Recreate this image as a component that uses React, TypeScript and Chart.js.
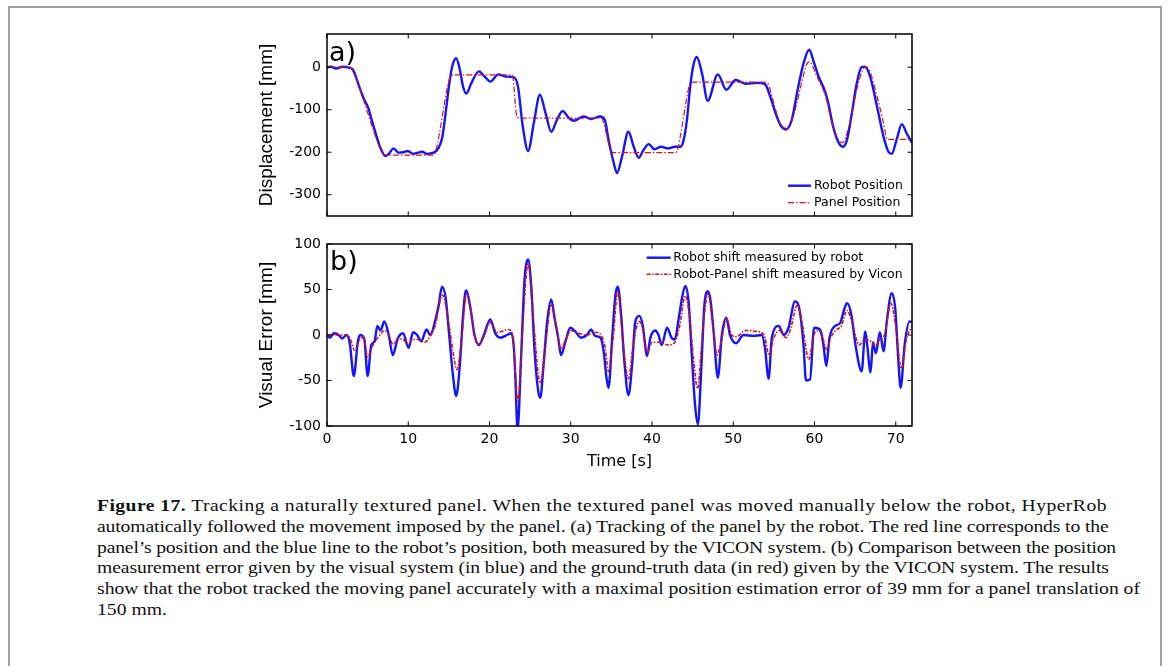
import React, { useEffect, useRef } from 'react';
import { Chart, registerables } from 'chart.js';

Chart.register(...registerables);

// ---------- data (a) ----------
const timeRobotA = [0, 0.5, 1.1, 1.9, 2.7, 3.2, 3.6, 4.1, 4.5, 5.1, 5.5, 6.0, 6.6, 7.2, 7.6, 8.2, 8.8, 9.4, 9.95, 10.6, 11.2, 11.7, 12.3, 13.1, 13.7, 14.2, 14.6, 15.0, 15.4, 15.9, 16.35, 16.75, 17.15, 17.75, 18.7, 19.4, 20.1, 21.1, 21.95, 23.0, 23.5, 24.1, 24.75, 25.45, 26.2, 26.9, 27.6, 28.3, 29.0, 29.7, 30.35, 31.6, 32.5, 33.6, 34.2, 34.65, 35.3, 35.7, 36.3, 37.1, 37.75, 38.35, 38.95, 39.6, 40.3, 41.1, 42.0, 42.8, 43.5, 43.9, 44.3, 44.7, 45.1, 45.5, 46.15, 46.85, 48.1, 49.15, 50.3, 51.5, 52.9, 53.9, 54.55, 55.2, 55.8, 56.5, 57.2, 58.0, 58.65, 59.35, 59.9, 60.5, 61.3, 61.7, 62.3, 63.0, 63.5, 64.0, 64.6, 65.2, 65.8, 66.2, 66.85, 67.7, 68.5, 69.1, 69.5, 70.1, 70.75, 71.35, 72];
const robotPosition = [0, 1, -3, 1, -1, -6, -25, -53, -73, -97, -124, -156, -191, -209, -204, -191, -201, -200, -197, -204, -201, -199, -204, -201, -191, -164, -108, -46, 1, 21, -6, -46, -62, -38, -10, -22, -34, -17, -22, -24, -45, -140, -197, -132, -65, -108, -152, -124, -103, -118, -126, -116, -122, -116, -124, -171, -226, -249, -211, -152, -187, -213, -195, -181, -193, -187, -191, -187, -187, -171, -124, -46, 5, 24, -14, -79, -17, -53, -30, -39, -37, -40, -69, -108, -136, -146, -124, -46, 9, 41, 13, -22, -57, -85, -140, -179, -187, -171, -108, -38, 0, 1, -22, -93, -164, -199, -204, -171, -134, -156, -178];
const timePanelA = [0, 2.8, 3.1, 6.7, 7.0, 7.3, 13.1, 13.4, 15.0, 15.3, 15.5, 22.7, 22.9, 23.3, 23.55, 23.8, 33.8, 34.0, 34.9, 35.1, 35.3, 42.9, 43.15, 44.6, 44.85, 45.1, 53.9, 54.2, 55.0, 55.6, 56.5, 57.6, 58.4, 59.0, 59.35, 60.3, 61.3, 62.3, 63.4, 64.3, 65.2, 65.9, 66.3, 66.7, 67.7, 68.5, 68.9, 69.1, 72];
const panelPosition = [0, 0, -6, -198, -206, -207, -207, -196, -32, -19, -18, -18, -26, -110, -119, -120, -120, -128, -195, -200, -201, -201, -193, -43, -36, -35, -35, -37, -85, -124, -148, -101, -38, 5, 13, -22, -65, -140, -178, -135, -53, -8, 0, -5, -69, -132, -168, -170, -170];

// ---------- data (b) ----------
const timeRobotB = [0, 0.35, 0.85, 1.45, 1.85, 2.4, 2.8, 3.3, 3.8, 4.1, 4.6, 5.0, 5.45, 5.85, 6.2, 6.6, 7.05, 7.6, 8.1, 8.7, 9.35, 10.05, 10.6, 11.1, 11.6, 12.25, 12.7, 13.35, 13.75, 14.15, 14.6, 15.0, 15.5, 15.9, 16.35, 16.75, 17.1, 17.65, 18.15, 18.7, 19.3, 20.1, 20.7, 21.35, 22.15, 22.65, 23.0, 23.2, 23.45, 23.9, 24.3, 24.75, 25.15, 25.55, 26.0, 26.25, 26.65, 27.1, 27.6, 28.0, 28.45, 28.8, 29.35, 29.95, 30.55, 31.25, 32.0, 32.5, 33.0, 33.65, 34.05, 34.4, 34.65, 35.1, 35.5, 35.8, 36.2, 36.6, 37.1, 37.55, 37.95, 38.45, 38.85, 39.4, 39.8, 40.4, 40.8, 41.2, 41.85, 42.4, 42.8, 43.3, 43.7, 44.1, 44.5, 44.9, 45.3, 45.65, 46.05, 46.45, 46.9, 47.2, 47.6, 48.1, 48.6, 49.15, 49.6, 50.35, 51.25, 52.5, 53.5, 53.9, 54.35, 54.75, 55.6, 56.2, 56.8, 57.6, 58.15, 58.65, 58.95, 59.45, 59.95, 60.7, 61.1, 61.45, 61.85, 62.55, 63.15, 63.65, 64.0, 64.5, 65.1, 65.8, 66.25, 66.5, 66.9, 67.2, 67.55, 68.05, 68.5, 68.9, 69.5, 69.95, 70.3, 70.6, 71.1, 71.7, 72];
const robotShift = [0, -3, 2, 0, -4, 0, -9, -45, -7, 0, -5, -45, -11, -7, 10, 5, 15, 0, -22, -4, 2, -14, 3, 0, -7, 6, 0, 17, 33, 53, 41, 4, -44, -67, -33, 22, 49, 30, 0, -11, 0, 17, 2, -3, 0, 2, -14, -50, -104, -22, 59, 83, 52, -18, -62, -69, -33, 15, 39, 19, -3, -22, -7, 8, 4, -3, 0, 6, -1, -3, -18, -47, -58, -3, 44, 53, 22, -29, -66, -33, 15, 21, 11, -23, -3, 5, 0, -11, 8, -3, -5, 19, 41, 54, 37, -22, -77, -98, -40, 33, 48, 38, 2, -47, 0, 19, 0, -9, 0, -1, 0, -14, -48, -3, 10, 0, 8, 37, 28, -11, -50, -49, 8, 6, -11, -34, -3, 10, 13, 28, 35, 24, -14, -40, 4, -12, -41, -8, -20, 3, -18, 15, 46, 28, -25, -58, -10, 15, 14];
const timeViconB = [0, 1.0, 2.0, 2.8, 3.4, 4.0, 4.5, 5.0, 5.6, 6.5, 7.1, 7.6, 8.1, 8.8, 9.4, 10.0, 10.6, 11.2, 12.0, 12.8, 13.3, 14.2, 15.0, 15.5, 16.0, 16.5, 17.2, 17.8, 18.2, 18.7, 19.4, 20.0, 21.0, 22.3, 22.8, 23.5, 24.0, 24.75, 25.3, 26.25, 26.8, 27.6, 28.2, 28.8, 29.4, 30.0, 31.0, 32.0, 33.0, 33.7, 34.2, 34.65, 35.2, 35.8, 36.4, 37.1, 37.7, 38.4, 38.9, 39.4, 40.0, 41.0, 42.0, 42.8, 43.4, 44.1, 44.6, 45.1, 45.6, 46.2, 46.9, 47.5, 48.0, 48.6, 49.2, 49.8, 50.4, 51.5, 52.8, 53.8, 54.4, 55.0, 55.7, 56.5, 57.0, 57.9, 58.5, 59.3, 59.9, 60.5, 61.0, 61.5, 62.0, 62.6, 63.3, 64.0, 64.6, 65.5, 66.2, 66.8, 67.5, 68.0, 68.6, 69.4, 69.9, 70.7, 71.3, 72];
const viconShift = [0, 0, 0, -3, -17, -6, -2, -24, -12, 0, 5, 0, -10, -4, -5, -10, -5, -5, -8, 0, 10, 44, 12, -18, -38, -10, 45, 22, -2, -10, 0, 14, 3, 6, 2, -72, -5, 78, 28, -53, -20, 33, 10, -15, -5, 5, 2, 0, 3, 0, -12, -40, -5, 48, -5, -48, -10, 15, 5, -20, -8, -8, -11, -8, 10, 43, 22, -25, -59, 0, 46, 10, -22, -3, 18, 0, -2, 5, 4, 0, -22, -3, 5, -3, 5, 33, 12, -27, 0, 5, -3, -16, -3, 5, 10, 27, 15, -11, -5, -6, -12, -5, 0, 35, 15, -37, -5, 10];

const xTicks = [0, 10, 20, 30, 40, 50, 60, 70];
const yTicksA = [-300, -200, -100, 0];
const yTicksB = [-100, -50, 0, 50, 100];
const legendA = ['Robot Position', 'Panel Position'];
const legendB = ['Robot shift measured by robot', 'Robot-Panel shift measured by Vicon'];

const BLUE = '#1414ff';
const RED = '#e01010';
const SANS = '"DejaVu Sans", "Liberation Sans", sans-serif';
const ARIAL = '"Liberation Sans", Arial, sans-serif';

const pts = (xs: number[], ys: number[]) => xs.map((x, i) => ({ x, y: ys[i] }));

const boxPlugin = {
  id: 'matlabBox',
  afterDatasetsDraw(chart: any, _args: any, opts: any) {
    const { ctx, chartArea } = chart;
    const { left, right, top, bottom } = chartArea;
    const xs = chart.scales.x;
    const ys = chart.scales.y;
    ctx.save();
    ctx.setLineDash([]);
    ctx.strokeStyle = '#000';
    ctx.lineWidth = 1;
    const tl = 4.5;
    ctx.beginPath();
    xs.ticks.forEach((t: any) => {
      const px = xs.getPixelForValue(t.value);
      ctx.moveTo(px, bottom);
      ctx.lineTo(px, bottom - tl);
      ctx.moveTo(px, top);
      ctx.lineTo(px, top + tl);
    });
    ys.ticks.forEach((t: any) => {
      const py = ys.getPixelForValue(t.value);
      ctx.moveTo(left, py);
      ctx.lineTo(left + tl, py);
      ctx.moveTo(right, py);
      ctx.lineTo(right - tl, py);
    });
    ctx.stroke();
    ctx.lineWidth = 1.5;
    ctx.strokeRect(left, top, right - left, bottom - top);

    // panel label
    ctx.fillStyle = '#000';
    ctx.font = '27px ' + SANS;
    ctx.textBaseline = 'alphabetic';
    ctx.textAlign = 'left';
    ctx.fillText(opts.label, left + opts.labelDx, top + opts.labelDy);

    // legend
    ctx.font = '12.5px ' + SANS;
    ctx.textBaseline = 'middle';
    const order = [1, 0]; // blue row first
    const labels = opts.legend;
    order.forEach((di: number, row: number) => {
      const ds = chart.data.datasets[di];
      const y = top + opts.legendRows[row];
      ctx.save();
      ctx.strokeStyle = ds.borderColor;
      ctx.lineWidth = ds.borderWidth;
      ctx.setLineDash(ds.borderDash || []);
      ctx.beginPath();
      ctx.moveTo(right - opts.lineStart, y);
      ctx.lineTo(right - opts.lineEnd, y);
      ctx.stroke();
      ctx.restore();
      ctx.fillStyle = '#000';
      ctx.fillText(labels[row], right - opts.textStart, y);
    });
    ctx.restore();
  },
};

function makeConfig(p: any): any {
  return {
    type: 'line',
    data: {
      datasets: [
        {
          label: p.labels[1],
          data: pts(p.t2, p.v2),
          borderColor: RED,
          borderWidth: p.redWidth,
          borderDash: p.redDash,
          pointRadius: 0,
          cubicInterpolationMode: 'monotone',
          fill: false,
          order: 0,
        },
        {
          label: p.labels[0],
          data: pts(p.t1, p.v1),
          borderColor: BLUE,
          borderWidth: 2.4,
          pointRadius: 0,
          cubicInterpolationMode: 'monotone',
          fill: false,
          order: 1,
        },
      ],
    },
    options: {
      responsive: false,
      animation: false,
      devicePixelRatio: 1,
      events: [],
      layout: { padding: { left: 0, right: 18, top: 10, bottom: 0 }, autoPadding: false },
      plugins: {
        legend: { display: false },
        tooltip: { enabled: false },
        matlabBox: p.box,
      },
      scales: {
        x: {
          type: 'linear',
          min: 0,
          max: 72,
          afterBuildTicks: (s: any) => { s.ticks = xTicks.map((v) => ({ value: v })); },
          afterFit: (s: any) => { s.height = p.xHeight; s.paddingLeft = 0; s.paddingRight = 0; s.paddingTop = 0; s.paddingBottom = 0; },
          grid: { display: false, drawTicks: false },
          border: { display: false },
          ticks: { display: p.showX, padding: 5, font: { family: SANS, size: 14 }, color: '#000', maxRotation: 0, autoSkip: false },
          title: { display: p.showX, text: 'Time [s]', color: '#000', font: { family: SANS, size: 16, lineHeight: 1.2 }, padding: { top: 0, bottom: 3 } },
        },
        y: {
          type: 'linear',
          min: p.yMin,
          max: p.yMax,
          afterBuildTicks: (s: any) => { s.ticks = p.yTicks.map((v: number) => ({ value: v })); },
          afterFit: (s: any) => { s.width = 87; s.paddingTop = 0; s.paddingBottom = 0; s.paddingLeft = 0; s.paddingRight = 0; },
          grid: { display: false, drawTicks: false },
          border: { display: false },
          ticks: { padding: 6, font: { family: SANS, size: 14 }, color: '#000', autoSkip: false },
          title: { display: true, text: p.yTitle, color: '#000', font: { family: ARIAL, size: 19, lineHeight: 1.2 }, padding: { top: 15, bottom: 0 } },
        },
      },
    },
    plugins: [boxPlugin],
  };
}

const captionLines: React.ReactNode[] = [
  <><b>Figure 17.</b> Tracking a naturally textured panel. When the textured panel was moved manually below the robot, HyperRob</>,
  'automatically followed the movement imposed by the panel. (a) Tracking of the panel by the robot. The red line corresponds to the',
  'panel\u2019s position and the blue line to the robot\u2019s position, both measured by the VICON system. (b) Comparison between the position',
  'measurement error given by the visual system (in blue) and the ground-truth data (in red) given by the VICON system. The results',
  'show that the robot tracked the moving panel accurately with a maximal position estimation error of 39 mm for a panel translation of',
  '150 mm.',
];
const captionWidths = [1010, 1011, 1019, 1012, 1043];

export default function App() {
  const refA = useRef<HTMLCanvasElement>(null);
  const refB = useRef<HTMLCanvasElement>(null);
  const capRef = useRef<HTMLDivElement>(null);

  useEffect(() => {
    const a = new Chart(refA.current as any, makeConfig({
      labels: legendA,
      t1: timeRobotA, v1: robotPosition,
      t2: timePanelA, v2: panelPosition,
      redWidth: 1.2, redDash: [6, 2, 1.5, 2],
      yMin: -350, yMax: 78, yTicks: yTicksA,
      yTitle: 'Displacement [mm]',
      showX: false, xHeight: 8,
      box: { label: 'a)', labelDx: 2, labelDy: 27, legend: legendA, legendRows: [151.7, 168.7], lineStart: 124, lineEnd: 101, textStart: 98 },
    }));
    const b = new Chart(refB.current as any, makeConfig({
      labels: legendB,
      t1: timeRobotB, v1: robotShift,
      t2: timeViconB, v2: viconShift,
      redWidth: 1.6, redDash: [4, 1.5, 1.5, 1.5],
      yMin: -100, yMax: 100, yTicks: yTicksB,
      yTitle: 'Visual Error [mm]',
      showX: true, xHeight: 48,
      box: { label: 'b)', labelDx: 3, labelDy: 26, legend: legendB, legendRows: [13.7, 30.3], lineStart: 265.3, lineEnd: 241.3, textStart: 238.7 },
    }));

    const fit = () => {
      const cap = capRef.current;
      if (!cap) return;
      const spans = Array.from(cap.querySelectorAll('span.capline')) as HTMLSpanElement[];
      spans.forEach((s) => { s.style.letterSpacing = '0px'; });
      const widths = spans.map((s) => s.offsetWidth);
      if (!widths[0]) return;
      let sum = 0;
      captionWidths.forEach((t, i) => { sum += t / widths[i]; });
      const k = sum / captionWidths.length;
      cap.style.transform = `scaleX(${k})`;
      captionWidths.forEach((t, i) => {
        const n = (spans[i].textContent || '').length;
        if (n > 0) spans[i].style.letterSpacing = `${(t / k - widths[i]) / n}px`;
      });
    };
    fit();
    if ((document as any).fonts && (document as any).fonts.ready) (document as any).fonts.ready.then(fit);

    return () => { a.destroy(); b.destroy(); };
  }, []);

  return (
    <div style={{ position: 'absolute', left: 0, top: 0, width: 1170, height: 666, overflow: 'hidden', background: '#fff' }}>
      <div style={{ position: 'absolute', left: 8, top: 6, width: 1154, height: 720, border: '2px solid #a0a0a0', boxSizing: 'border-box' }} />
      <canvas ref={refA} width={690} height={200} style={{ position: 'absolute', left: 240, top: 24, width: 690, height: 200 }} />
      <canvas ref={refB} width={690} height={240} style={{ position: 'absolute', left: 240, top: 234, width: 690, height: 240 }} />
      <div ref={capRef} style={{ position: 'absolute', left: 97, top: 496, transformOrigin: '0 0', fontFamily: '"Liberation Serif", "Times New Roman", serif', fontSize: 16.5, lineHeight: '20.8px', color: '#111', whiteSpace: 'nowrap' }}>
        {captionLines.map((ln, i) => (
          <div key={i} style={{ height: 20.8 }}>
            <span className="capline" style={{ display: 'inline-block' }}>{ln}</span>
          </div>
        ))}
      </div>
    </div>
  );
}
